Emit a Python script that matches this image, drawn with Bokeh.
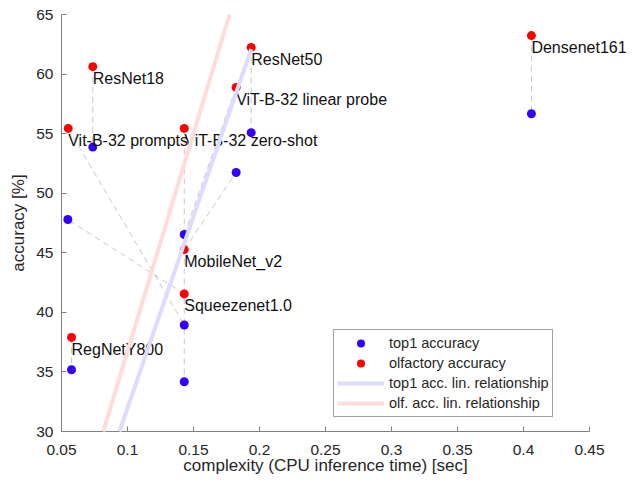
from bokeh.plotting import figure
from bokeh.models import Range1d, FixedTicker, Legend, LegendItem
from bokeh.core.properties import value
from bokeh.embed import file_html
from bokeh.resources import INLINE

# ---- data ----
models = ["ResNet18", "ResNet50", "Densenet161", "RegNetY800", "ViT-B-32 zero-shot",
          "Vit-B-32 prompts", "ViT-B-32 linear probe", "MobileNet_v2", "Squeezenet1.0"]
olf_time = [0.0737, 0.1937, 0.406, 0.0576, 0.143, 0.0551, 0.1823, 0.143, 0.143]
olf_acc = [60.62, 62.24, 63.23, 37.90, 55.44, 55.44, 58.88, 45.27, 41.55]
top1_time = [0.0737, 0.1937, 0.406, 0.0576, 0.143, 0.143, 0.143, 0.1823, 0.0548]
top1_acc = [53.87, 55.08, 56.67, 35.18, 34.18, 38.94, 46.53, 51.74, 47.79]

# linear relationships (slope, intercept) and x-span of the fitted lines
top1_fit = (321.6, -0.198)
olf_fit = (365.7, 0.159)
fit_span = [0.05, 0.1937]

xticks = [0.05, 0.1, 0.15, 0.2, 0.25, 0.3, 0.35, 0.4, 0.45]
xtick_labels = ["0.05", "0.1", "0.15", "0.2", "0.25", "0.3", "0.35", "0.4", "0.45"]
yticks = [30, 35, 40, 45, 50, 55, 60, 65]

XMIN, XMAX, YMIN, YMAX = 0.05, 0.45, 30, 65
FONT = "Liberation Sans"
TXT = "#262626"

p = figure(width=641, height=483, output_backend="svg", toolbar_location=None,
           x_range=Range1d(XMIN, XMAX), y_range=Range1d(YMIN, YMAX))
p.min_border_left = 61
p.min_border_right = 52
p.min_border_top = 14
p.min_border_bottom = 52
p.outline_line_color = None
p.xgrid.visible = False
p.ygrid.visible = False
p.background_fill_color = "white"
p.border_fill_color = "white"

for ax in (p.xaxis[0], p.yaxis[0]):
    ax.axis_line_color = "#808080"
    ax.major_tick_line_color = "#808080"
    ax.minor_tick_line_color = None
    ax.major_tick_in = 5
    ax.major_tick_out = 0
    ax.major_label_text_font = FONT
    ax.major_label_text_font_size = "15.5px"
    ax.major_label_text_color = TXT
    ax.axis_label_text_font = FONT
    ax.axis_label_text_font_size = "17px"
    ax.axis_label_text_color = TXT
    ax.axis_label_text_font_style = "normal"

p.xaxis.ticker = FixedTicker(ticks=xticks)
p.xaxis.major_label_overrides = dict(zip(xticks, xtick_labels))
p.yaxis.ticker = FixedTicker(ticks=yticks)
p.xaxis.axis_label = "complexity (CPU inference time) [sec]"
p.yaxis.axis_label = "accuracy [%]"
p.xaxis.major_label_standoff = 13
p.xaxis.axis_label_standoff = -2
p.yaxis.major_label_standoff = 8
p.yaxis.axis_label_standoff = 5

# dashed connectors between paired results
p.segment(x0=olf_time, y0=olf_acc, x1=top1_time, y1=top1_acc,
          line_color="#c8c8c8", line_width=1, line_dash="6 4")

r_top1 = p.scatter(top1_time, top1_acc, size=9, fill_color="#3300ff", line_color=None)
r_olf = p.scatter(olf_time, olf_acc, size=9, fill_color="#ff0000", line_color=None)

# model names (annotation level so they may run past the frame edge)
p.text(x=olf_time, y=olf_acc, text=models, text_font=value(FONT), text_font_size="16px",
       text_color="#111111", text_align="left", text_baseline="middle", y_offset=12,
       level="annotation")


def fit_line(fit):
    m, b = fit
    x0 = max(fit_span[0], (YMIN - b) / m)
    x1 = min(fit_span[1], (YMAX - b) / m)
    return [x0, x1], [m * x0 + b, m * x1 + b]


# fitted lines on top of everything (kept inside the axes box by construction)
lx, ly = fit_line(top1_fit)
r_l1 = p.line(lx, ly, line_color="#dcdcff", line_width=4, level="overlay")
lx, ly = fit_line(olf_fit)
r_l2 = p.line(lx, ly, line_color="#ffdcdc", line_width=4, level="overlay")

legend = Legend(items=[
    LegendItem(label="top1 accuracy", renderers=[r_top1]),
    LegendItem(label="olfactory accuracy", renderers=[r_olf]),
    LegendItem(label="top1 acc. lin. relationship", renderers=[r_l1]),
    LegendItem(label="olf. acc. lin. relationship", renderers=[r_l2]),
], location=(272, 14))
legend.label_text_font = FONT
legend.label_text_font_size = "14.5px"
legend.label_text_color = TXT
legend.glyph_width = 47
legend.glyph_height = 20
legend.label_height = 20
legend.label_standoff = 5
legend.spacing = 0
legend.padding = 3
legend.margin = 0
legend.border_line_color = "#444444"
legend.border_line_width = 1
legend.background_fill_alpha = 1.0
p.add_layout(legend)

open("out.html", "w").write(file_html(p, INLINE))
